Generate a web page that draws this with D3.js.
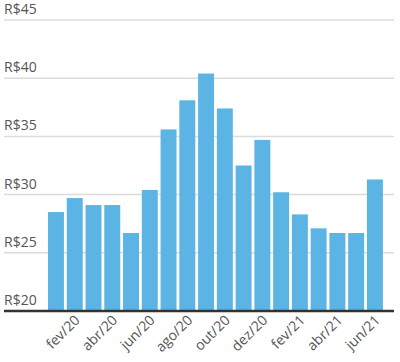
<!DOCTYPE html>
<html lang="pt">
<head>
<meta charset="UTF-8">
<title>Preço mensal</title>
<style>
  body { margin: 0; background: #fff; }
  text { font-family: "Open Sans", "Noto Sans", sans-serif; }
  .grid line { stroke: #dcdcdc; stroke-width: 1.5px; }
  .ylab { font-size: 14px; fill: #555; }
  .xlab { font-size: 14px; fill: #555; }
  .bar { fill: #5cb4e4; }
</style>
<script src="https://d3js.org/d3.v7.min.js"></script>
</head>
<body>
<svg width="400" height="362"></svg>
<script>
  const months = ['jan/20','fev/20','mar/20','abr/20','mai/20','jun/20','jul/20','ago/20','set/20',
                  'out/20','nov/20','dez/20','jan/21','fev/21','mar/21','abr/21','mai/21','jun/21'];
  const prices = [28.5, 29.7, 29.1, 29.1, 26.7, 30.4, 35.6, 38.1, 40.4,
                  37.4, 32.5, 34.7, 30.2, 28.3, 27.1, 26.7, 26.7, 31.3];
  const yTicks = [20, 25, 30, 35, 40, 45];
  const xLabels = ['fev/20','abr/20','jun/20','ago/20','out/20','dez/20','fev/21','abr/21','jun/21'];

  const svg = d3.select("svg");

  const x = d3.scaleBand()
    .domain(months)
    .range([46.6, 384.3])
    .paddingInner(0.15)
    .paddingOuter(0.075);

  const y = d3.scaleLinear()
    .domain([20, 45])
    .range([311, 20]);

  // linhas de grade
  svg.append("g").attr("class", "grid")
    .selectAll("line")
    .data(yTicks.filter(d => d > 20))
    .join("line")
    .attr("x1", 4).attr("x2", 394)
    .attr("y1", d => y(d)).attr("y2", d => y(d));

  // rótulos do eixo y
  svg.selectAll(".ylab")
    .data(yTicks)
    .join("text")
    .attr("class", "ylab")
    .attr("x", 4)
    .attr("y", d => y(d) - 6)
    .text(d => "R$" + d);

  // barras
  svg.selectAll(".bar")
    .data(months)
    .join("rect")
    .attr("class", "bar")
    .attr("x", d => x(d))
    .attr("width", x.bandwidth())
    .attr("y", (d, i) => y(prices[i]))
    .attr("height", (d, i) => y(20) - y(prices[i]));

  // linha de base
  svg.append("line")
    .attr("x1", 4).attr("x2", 394)
    .attr("y1", y(20)).attr("y2", y(20))
    .attr("stroke", "#333")
    .attr("stroke-width", 2.5);

  // rótulos do eixo x
  svg.selectAll(".xlab")
    .data(xLabels)
    .join("text")
    .attr("class", "xlab")
    .attr("text-anchor", "end")
    .attr("transform", d => `translate(${x(d) + x.bandwidth() / 2 + 6},${y(20) + 10}) rotate(-45)`)
    .text(d => d);
</script>
</body>
</html>
